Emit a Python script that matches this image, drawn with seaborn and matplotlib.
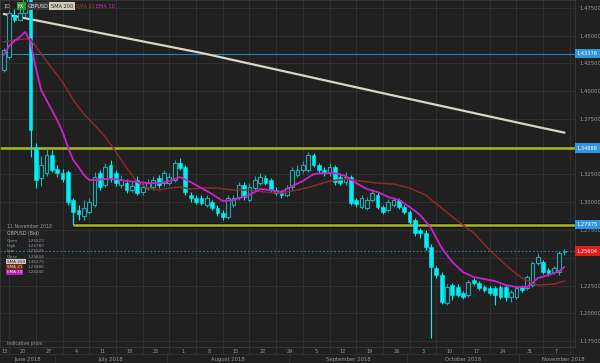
import numpy as np
import pandas as pd
import matplotlib
matplotlib.use("Agg")
import matplotlib.pyplot as plt
import matplotlib.transforms as mtransforms
import seaborn as sns

# ---------------- data ----------------
opens = [1.4191, 1.4308, 1.4687, 1.4642, 1.4705, 1.4870, 1.3489, 1.3218, 1.3263, 1.3425,
         1.3299, 1.3263, 1.3272, 1.3020, 1.2930, 1.2876, 1.2912, 1.2975, 1.3263, 1.3155,
         1.3335, 1.3263, 1.3155, 1.3173, 1.3110, 1.3200, 1.3092, 1.3128, 1.3137, 1.3218,
         1.3173, 1.3173, 1.3200, 1.3353, 1.3317, 1.3065, 1.3038, 1.3038, 1.2975, 1.3002,
         1.2948, 1.2903, 1.2867, 1.2975, 1.3047, 1.3155, 1.3020, 1.3128, 1.3173, 1.3218,
         1.3200, 1.3110, 1.3092, 1.3065, 1.3137, 1.3245, 1.3290, 1.3290, 1.3425, 1.3335,
         1.3290, 1.3263, 1.3317, 1.3227, 1.3182, 1.3227, 1.3020, 1.2957, 1.2948, 1.3020,
         1.3065, 1.2957, 1.2930, 1.2975, 1.3020, 1.2957, 1.2912, 1.2840, 1.2750, 1.2723,
         1.2597, 1.2407, 1.2344, 1.2092, 1.2254, 1.2236, 1.2182, 1.2164, 1.2299, 1.2272,
         1.2236, 1.2227, 1.2227, 1.2236, 1.2236, 1.2146, 1.2146, 1.2236, 1.2227, 1.2254,
         1.2452, 1.2461, 1.2389, 1.2371, 1.2371, 1.25523]
highs = [1.4390, 1.4730, 1.4740, 1.4780, 1.5019, 1.5000, 1.3534, 1.3420, 1.3489, 1.3471,
         1.3335, 1.3299, 1.3290, 1.3038, 1.2975, 1.3020, 1.3038, 1.3272, 1.3290, 1.3353,
         1.3380, 1.3290, 1.3245, 1.3209, 1.3182, 1.3236, 1.3173, 1.3209, 1.3236, 1.3245,
         1.3290, 1.3263, 1.3380, 1.3399, 1.3335, 1.3092, 1.3065, 1.3065, 1.3065, 1.3020,
         1.2975, 1.2930, 1.3065, 1.3065, 1.3182, 1.3182, 1.3173, 1.3236, 1.3263, 1.3245,
         1.3218, 1.3137, 1.3110, 1.3155, 1.3317, 1.3335, 1.3371, 1.3450, 1.3445, 1.3353,
         1.3317, 1.3353, 1.3340, 1.3263, 1.3272, 1.3245, 1.3038, 1.3065, 1.3047, 1.3110,
         1.3092, 1.2975, 1.3030, 1.3047, 1.3038, 1.2975, 1.2930, 1.2858, 1.2768, 1.2750,
         1.2620, 1.2430, 1.2370, 1.2260, 1.2270, 1.2260, 1.2200, 1.2300, 1.2320, 1.2290,
         1.2254, 1.2245, 1.2245, 1.2254, 1.2254, 1.2209, 1.2245, 1.2254, 1.2345, 1.2470,
         1.2542, 1.2480, 1.2407, 1.2425, 1.2560, 1.2578]
lows = [1.4170, 1.4290, 1.4620, 1.4630, 1.4670, 1.3407, 1.3128, 1.3150, 1.3236, 1.3272,
        1.3227, 1.3182, 1.2975, 1.2795, 1.2840, 1.2840, 1.2894, 1.2957, 1.3110, 1.3137,
        1.3182, 1.3146, 1.3128, 1.3083, 1.3092, 1.3065, 1.3065, 1.3110, 1.3110, 1.3128,
        1.3146, 1.3155, 1.3182, 1.3290, 1.3065, 1.3002, 1.2984, 1.2975, 1.2957, 1.2930,
        1.2876, 1.2840, 1.2849, 1.2957, 1.3020, 1.3020, 1.3002, 1.3110, 1.3155, 1.3155,
        1.3092, 1.3065, 1.3038, 1.3047, 1.3110, 1.3227, 1.3263, 1.3272, 1.3317, 1.3263,
        1.3236, 1.3236, 1.3155, 1.3155, 1.3155, 1.2975, 1.2957, 1.2940, 1.2930, 1.3002,
        1.2940, 1.2894, 1.2912, 1.2957, 1.2940, 1.2894, 1.2800, 1.2700, 1.2680, 1.2570,
        1.1777, 1.2320, 1.2080, 1.2074, 1.2120, 1.2146, 1.2128, 1.2146, 1.2254, 1.2209,
        1.2191, 1.2164, 1.2074, 1.2128, 1.2110, 1.2101, 1.2128, 1.2191, 1.2209, 1.2236,
        1.2434, 1.2353, 1.2335, 1.2353, 1.2344, 1.25235]
closes = [1.4371, 1.4705, 1.4642, 1.4705, 1.4870, 1.3651, 1.3200, 1.3335, 1.3425, 1.3290,
          1.3263, 1.3209, 1.3002, 1.2912, 1.2894, 1.2948, 1.3002, 1.3227, 1.3137, 1.3317,
          1.3218, 1.3173, 1.3200, 1.3110, 1.3146, 1.3083, 1.3137, 1.3173, 1.3200, 1.3155,
          1.3263, 1.3227, 1.3353, 1.3308, 1.3092, 1.3038, 1.3002, 1.2993, 1.3038, 1.2948,
          1.2903, 1.2867, 1.3038, 1.3038, 1.3155, 1.3047, 1.3137, 1.3200, 1.3227, 1.3173,
          1.3110, 1.3083, 1.3065, 1.3128, 1.3290, 1.3290, 1.3335, 1.3425, 1.3335, 1.3290,
          1.3263, 1.3317, 1.3182, 1.3173, 1.3227, 1.2993, 1.2984, 1.3038, 1.3020, 1.3083,
          1.2957, 1.2912, 1.3002, 1.3020, 1.2957, 1.2912, 1.2822, 1.2723, 1.2723, 1.2597,
          1.2416, 1.2344, 1.2101, 1.2236, 1.2164, 1.2164, 1.2146, 1.2281, 1.2272, 1.2227,
          1.2209, 1.2182, 1.2164, 1.2146, 1.2146, 1.2191, 1.2227, 1.2209, 1.2326, 1.2452,
          1.2506, 1.2371, 1.2362, 1.2407, 1.2542, 1.25604]

sma200_idx = [0, 37, 70, 100, 105]
sma200_val = [1.4696, 1.4345, 1.3993, 1.3678, 1.3627]

sma21_idx = [0, 2, 4, 5, 7, 9, 11, 13, 15, 17, 19, 21, 23, 25, 27, 29, 31, 33, 35, 37, 40, 43,
             46, 49, 52, 55, 58, 61, 64, 67, 70, 73, 76, 79, 82, 85, 88, 91, 94, 97, 100, 103, 105]
sma21_val = [1.4444, 1.4462, 1.4471, 1.4471, 1.4335, 1.4209, 1.4083, 1.3921, 1.3795, 1.3696,
             1.3588, 1.3453, 1.3308, 1.3182, 1.3128, 1.3110, 1.3128, 1.3137, 1.3119, 1.3128,
             1.3128, 1.3110, 1.3110, 1.3092, 1.3083, 1.3110, 1.3146, 1.3191, 1.3209, 1.3191,
             1.3173, 1.3164, 1.3128, 1.3065, 1.2948, 1.2831, 1.2723, 1.2570, 1.2434, 1.2317,
             1.2254, 1.2263, 1.2290]

ema10_idx = [0, 1, 2, 3, 4, 5, 6, 7, 8, 9, 10, 11, 12, 13, 14, 15, 16, 17, 19, 21, 23, 25, 27,
             29, 31, 33, 35, 37, 39, 41, 43, 46, 48, 50, 52, 54, 56, 58, 60, 62, 64, 66, 68, 70,
             72, 74, 76, 78, 80, 82, 84, 86, 88, 90, 92, 94, 96, 98, 99, 100, 102, 104, 105]
ema10_val = [1.4327, 1.4408, 1.4453, 1.4489, 1.4534, 1.4444, 1.4209, 1.4011, 1.3921, 1.3831,
             1.3741, 1.3633, 1.3498, 1.3380, 1.3317, 1.3245, 1.3200, 1.3200, 1.3209, 1.3209,
             1.3191, 1.3182, 1.3173, 1.3173, 1.3191, 1.3227, 1.3182, 1.3128, 1.3074, 1.3011,
             1.3020, 1.3065, 1.3119, 1.3110, 1.3092, 1.3146, 1.3191, 1.3254, 1.3263, 1.3263,
             1.3236, 1.3173, 1.3119, 1.3092, 1.3047, 1.3020, 1.2957, 1.2885, 1.2768, 1.2588,
             1.2461, 1.2371, 1.2326, 1.2308, 1.2290, 1.2254, 1.2236, 1.2236, 1.2272, 1.2317,
             1.2344, 1.2380, 1.2416]

week_labels = ["13", "20", "27", "4", "11", "18", "25", "1", "8", "15", "22", "29",
               "5", "12", "19", "26", "3", "10", "17", "24", "31", "7"]
month_labels = ["June 2018", "July 2018", "August 2018", "September 2018",
                "October 2018", "November 2018"]
month_first_idx = [-4, 10, 31, 54, 76, 97]

level_blue = 1.43376
level_yellow_hi = 1.34886
level_yellow_lo = 1.27975
last_price = 1.25604

# price ticks; 1.350 and 1.250 are hidden behind the value boxes in the reference
yticks = [1.175, 1.200, 1.225, 1.275, 1.300, 1.325, 1.375, 1.400,
          1.425, 1.450, 1.475]
grid_prices = [1.175, 1.200, 1.225, 1.250, 1.275, 1.300, 1.325, 1.350, 1.375, 1.400,
               1.425, 1.450, 1.475]

info_rows = [("Open", "1.25523"), ("High", "1.25780"), ("Low", "1.25235"),
             ("Close", "1.25604"), ("SMA 200", "1.36270"), ("SMA 21", "1.23488"),
             ("EMA 10", "1.24240")]

# ---------------- style ----------------
BG = "#202020"
GRID = "#323232"
CYAN = "#00eef5"
TEAL = "#1fa9b0"
SMA200_C = "#d9d5c7"
SMA21_C = "#8a2c28"
EMA10_C = "#cc22cc"
YEL = "#a9b81f"
TXT = "#9a9a9a"

sns.set_theme(style="dark")
plt.rcParams["font.family"] = ["DejaVu Sans"]

df = pd.DataFrame(dict(i=np.arange(len(closes)), open=opens, high=highs,
                       low=lows, close=closes))
up = df["close"] >= df["open"]

W, H = 600, 363
fig = plt.figure(figsize=(6.0, 3.63), dpi=100, facecolor=BG)
ax = fig.add_axes([0, 16 / H, 575 / W, 347 / H])
ax.set_facecolor(BG)

x_lo, x_hi = -0.712, 106.97
y_lo, y_hi = 1.1696, 1.4822
ax.set_xlim(x_lo, x_hi)
ax.set_ylim(y_lo, y_hi)

# grid
for yt in grid_prices:
    ax.axhline(yt, color=GRID, lw=0.6, zorder=0)
mondays = [1 + 5 * k for k in range(-1, 22)]
for m in mondays:
    ax.axvline(m, color=GRID, lw=0.6, zorder=0)

# levels
ax.axhline(level_blue, color="#2f80b8", lw=0.8, zorder=1)
ax.axhline(level_yellow_hi, color=YEL, lw=1.8, zorder=1)
ax.hlines(level_yellow_lo, 13, x_hi, color="#0c0c10", lw=3.4, zorder=1)
ax.hlines(level_yellow_lo, 13, x_hi, color=YEL, lw=1.8, zorder=1.1)
ax.axhline(last_price, color="#3d6f93", lw=0.9, ls=(0, (1.4, 1.6)), zorder=1)

# candles
ax.vlines(df.loc[~up, "i"], df.loc[~up, "low"], df.loc[~up, "high"], color=CYAN, lw=0.8, zorder=3)
ax.vlines(df.loc[up, "i"], df.loc[up, "low"], df.loc[up, "high"], color=TEAL, lw=0.8, zorder=3)
dn = df[~up]
ax.bar(dn["i"], (dn["open"] - dn["close"]).clip(lower=0.0006), bottom=dn["close"],
       width=0.7, color=CYAN, edgecolor=CYAN, lw=0.4, zorder=4)
u = df[up]
ax.bar(u["i"], (u["close"] - u["open"]).clip(lower=0.0006), bottom=u["open"],
       width=0.7, facecolor=BG, edgecolor=TEAL, lw=0.8, zorder=4)

# moving averages
sns.lineplot(x=sma200_idx, y=sma200_val, ax=ax, color=SMA200_C, lw=1.6, zorder=2)
sns.lineplot(x=sma21_idx, y=sma21_val, ax=ax, color=SMA21_C, lw=1.1, zorder=5)
sns.lineplot(x=ema10_idx, y=ema10_val, ax=ax, color=EMA10_C, lw=1.3, zorder=6)

# y axis on right
ax.yaxis.tick_right()
ax.set_yticks(yticks)
ax.set_yticklabels([f"{v:.5f}" for v in yticks])
ax.tick_params(axis="y", length=0, pad=3, labelsize=3.8, labelcolor=TXT)
ax.set_ylabel("")
ax.set_xlabel("")

# x axis week labels
week_centers = []
for m in range(-4, 102, 5):
    lo = max(m, x_lo)
    week_centers.append((lo + m + 5) / 2)
ax.set_xticks(week_centers[:len(week_labels)])
ax.set_xticklabels(week_labels)
ax.tick_params(axis="x", length=0, pad=1.3, labelsize=3.5, labelcolor=TXT)

for sp in ax.spines.values():
    sp.set_color("#3a3a3a")
    sp.set_linewidth(0.6)

trans = mtransforms.blended_transform_factory(ax.transData, ax.transAxes)
# label rows separators
ax.plot([x_lo, x_hi], [-0.02, -0.02], transform=trans, color="#363636", lw=0.5, clip_on=False)
for m in mondays:
    if x_lo < m < x_hi:
        ax.plot([m, m], [0, -0.02], transform=trans, color="#363636", lw=0.5, clip_on=False)
bounds = [b - 0.5 for b in month_first_idx[1:]]
for b in bounds:
    ax.plot([b, b], [-0.02, -0.05], transform=trans, color="#363636", lw=0.5, clip_on=False)
edges = [x_lo] + bounds + [113.0]
for k, lab in enumerate(month_labels):
    xc = (edges[k] + edges[k + 1]) / 2
    ax.text(xc, -0.035, lab, transform=trans, ha="center", va="center",
            fontsize=3.8, color=TXT, clip_on=False)

# right-side value boxes
ytrans = mtransforms.blended_transform_factory(ax.transAxes, ax.transData)


def tag(val, text, fc, tc="white"):
    ax.text(1.003, val, text, transform=ytrans,
            ha="left", va="center", fontsize=3.7, color=tc,
            bbox=dict(boxstyle="square,pad=0.4", fc=fc, ec="none"), clip_on=False, zorder=10)


tag(level_blue, f"{level_blue:.5f}", "#2f95e0")
tag(level_yellow_hi, f"{level_yellow_hi:.5f}", "#2f95e0")
tag(level_yellow_lo, f"{level_yellow_lo:.5f}", "#2f95e0")
tag(last_price, f"{last_price:.5f}", "#e21b1b")


# header
def px(xp, yp):
    return xp / 575, 1 - yp / 347


ax.text(*px(3, 6), "1D", transform=ax.transAxes, fontsize=3.6, color="#c8c8c8", va="center", zorder=10)
ax.text(*px(18, 6), "FX", transform=ax.transAxes, fontsize=3.6, color="white", va="center",
        bbox=dict(boxstyle="square,pad=0.3", fc="#2e9a2e", ec="none"), zorder=10)
ax.text(*px(28, 6), "GBPUSD", transform=ax.transAxes, fontsize=3.6, color="#dddddd", va="center",
        bbox=dict(boxstyle="square,pad=0.3", fc="#3a3a3a", ec="none"), zorder=10)
ax.text(*px(51, 6), "SMA 200", transform=ax.transAxes, fontsize=3.6, color="#222222", va="center",
        bbox=dict(boxstyle="square,pad=0.3", fc="#cfcbbf", ec="none"), zorder=10)
ax.text(*px(76, 6), "SMA 21", transform=ax.transAxes, fontsize=3.6, color="#a83a34", va="center", zorder=10)
ax.text(*px(96, 6), "EMA 10", transform=ax.transAxes, fontsize=3.6, color="#d02ad0", va="center", zorder=10)

# info panel
ax.text(*px(7, 227), "11 November 2018", transform=ax.transAxes, fontsize=3.3, color=TXT, va="center")
ax.text(*px(7, 234), "GBPUSD (Bid)", transform=ax.transAxes, fontsize=3.3, color="#bbbbbb", va="center")
row_fc = {"SMA 200": ("#cfcbbf", "#222222"), "SMA 21": ("#7a2420", "#dddddd"),
          "EMA 10": ("#b01fb0", "#eeeeee")}
for k, (lab, val) in enumerate(info_rows):
    yy = 241 + k * 5.2
    if lab in row_fc:
        fc, tc = row_fc[lab]
        ax.text(*px(7, yy), lab, transform=ax.transAxes, fontsize=3.0, color=tc, va="center",
                bbox=dict(boxstyle="square,pad=0.15", fc=fc, ec="none"))
    else:
        ax.text(*px(7, yy), lab, transform=ax.transAxes, fontsize=3.0, color=TXT, va="center")
    ax.text(*px(28, yy), val, transform=ax.transAxes, fontsize=3.0, color=TXT, va="center")

ax.text(*px(7, 343), "Indicative price", transform=ax.transAxes, fontsize=3.3, color=TXT, va="center")

fig.savefig("out.png", dpi=100, facecolor=BG)
